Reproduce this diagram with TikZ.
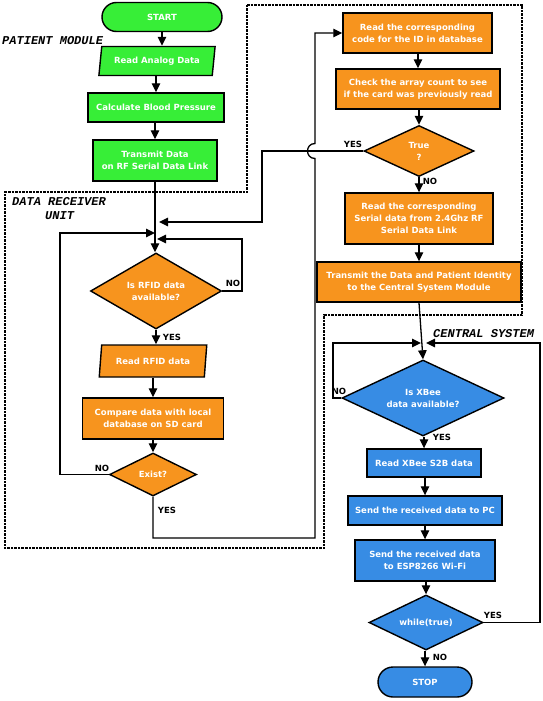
\documentclass[tikz,border=0pt]{standalone}
\usepackage{fontspec}
\setmainfont{DejaVu Sans}
\newfontfamily\modfont{Liberation Mono}
\usetikzlibrary{shapes.geometric,shapes.misc,arrows.meta}
\definecolor{cgreen}{RGB}{55,238,55}
\definecolor{corange}{RGB}{247,148,30}
\definecolor{cblue}{RGB}{55,140,228}
\begin{document}
\begin{tikzpicture}[x=1pt,y=-1pt,
  box/.style={draw=black, line width=1.4pt, text=white, font=\fontsize{8.5}{12}\selectfont\bfseries, align=center, inner sep=0pt},
  gbox/.style={box, fill=cgreen},
  obox/.style={box, fill=corange},
  bbox/.style={box, fill=cblue},
  term/.style={rounded rectangle},
  io/.style={trapezium, trapezium left angle=75, trapezium right angle=105, trapezium stretches=true},
  dec/.style={diamond, aspect=2},
  arr/.style={-{Triangle[length=9pt,width=8.5pt]}, line width=1.3pt},
  lab/.style={font=\fontsize{8.5}{10}\selectfont\bfseries, inner sep=0pt},
  mod/.style={font=\modfont\fontsize{12}{12}\selectfont\bfseries\itshape, inner sep=0pt, anchor=west},
  region/.style={line width=2.5pt, dash pattern=on 2.5pt off 1pt}
]
\useasboundingbox (0,0) rectangle (543,701);
\fill[white] (0,0) rectangle (543,701);

% region outline
\draw[region] (247,5) -- (522,5) -- (522,315) -- (324,315) -- (324,548) -- (5,548) -- (5,192) -- (247,192) -- cycle;

% module labels
\node[mod] (lpm) at (2,41) {PATIENT MODULE};
\node[mod] (ldr) at (12,202) {DATA RECEIVER};
\node[mod] (lun) at (45,216) {UNIT};
\node[mod] (lcs) at (433,334) {CENTRAL SYSTEM};

% patient module
\node[gbox, term, minimum width=120pt, minimum height=29pt] (start) at (162,17) {START};
\node[gbox, io, minimum width=117pt, minimum height=29pt] (readA) at (157,61) {Read Analog Data};
\node[gbox, rectangle, minimum width=136pt, minimum height=29pt] (calc) at (156,107.5) {Calculate Blood Pressure};
\node[gbox, rectangle, minimum width=124pt, minimum height=41pt] (trans) at (155,160.5) {Transmit Data\\on RF Serial Data Link};

% data receiver left column
\node[obox, dec, minimum width=131pt, minimum height=76pt] (rfid) at (156,291) {Is RFID data\\available?};
\node[obox, io, minimum width=108pt, minimum height=32pt] (readR) at (153,361) {Read RFID data};
\node[obox, rectangle, minimum width=141pt, minimum height=41pt] (comp) at (153,418.5) {Compare data with local\\database on SD card};
\node[obox, dec, minimum width=87pt, minimum height=43pt] (exist) at (153,474.5) {Exist?};

% data receiver right column
\node[obox, rectangle, minimum width=149pt, minimum height=40pt] (code) at (417.5,33) {Read the corresponding\\code for the ID in database};
\node[obox, rectangle, minimum width=164pt, minimum height=40pt] (check) at (418,89) {Check the array count to see\\if the card was previously read};
\node[obox, dec, minimum width=110pt, minimum height=51pt] (truew) at (419,151) {True\\?};
\node[obox, rectangle, minimum width=148pt, minimum height=51pt] (serial) at (419,218.5) {Read the corresponding\\Serial data from 2.4Ghz RF\\Serial Data Link};
\node[obox, rectangle, minimum width=204pt, minimum height=40pt] (transP) at (419,282) {Transmit the Data and Patient Identity\\to the Central System Module};

% central system
\node[bbox, dec, minimum width=162pt, minimum height=76pt] (xbee) at (423,398) {Is XBee\\data available?};
\node[bbox, rectangle, minimum width=114pt, minimum height=28pt] (readX) at (424,463) {Read XBee S2B data};
\node[bbox, rectangle, minimum width=154pt, minimum height=29pt] (pc) at (425,510.5) {Send the received data to PC};
\node[bbox, rectangle, minimum width=140pt, minimum height=41pt] (esp) at (425,560.5) {Send the received data\\to ESP8266 Wi-Fi};
\node[bbox, dec, minimum width=114pt, minimum height=55pt] (whilet) at (426,622.5) {while(true)};
\node[bbox, term, minimum width=94pt, minimum height=30pt] (stop) at (425,682) {STOP};

% connectors patient module
\draw[arr] (start.south) -- (start.south |- readA.north);
\draw[arr] (readA.south -| calc.north) -- (calc.north);
\draw[arr] (calc.south -| trans.north) -- (trans.north);
\draw[arr] (trans.south) -- (trans.south |- rfid.north);

% left column connectors
\draw[arr] (truew.west) -| (262,222) -- (159,222);
\draw[arr] (exist.west) -| (60,233) -- (155,233);
\draw[arr] (rfid.east) -| (242,239) -- (157,239);
\draw[arr] (rfid.south) -- (rfid.south |- readR.north);
\draw[arr] (readR.south -| comp.north) -- (comp.north);
\draw[arr] (comp.south) -- (exist.north);
\draw[arr] (exist.south) -- (153,538) -- (315,538) -- (315,158.5) .. controls (305,158.5) and (305,143.5) .. (315,143.5) -- (315,33) -- (code.west);

% right column connectors
\draw[arr] (code.south -| check.north) -- (check.north);
\draw[arr] (check.south -| truew.north) -- (truew.north);
\draw[arr] (truew.south) -- (serial.north);
\draw[arr] (serial.south) -- (transP.north);
\draw[arr] (transP.south) -- (xbee.north);

% central connectors
\draw[arr] (xbee.west) -| (333,343) -- (421,343);
\draw[arr] (whilet.east) -| (540,343) -- (426,343);
\draw[arr] (xbee.south -| readX.north) -- (readX.north);
\draw[arr] (readX.south -| pc.north) -- (pc.north);
\draw[arr] (pc.south) -- (esp.north);
\draw[arr] (esp.south -| whilet.north) -- (whilet.north);
\draw[arr] (whilet.south -| stop.north) -- (stop.north);

% labels
\node[lab] (nrfid) at (233,283) {NO};
\node[lab] (yrfid) at (172,337) {YES};
\node[lab] (nex) at (102,468) {NO};
\node[lab] (yex) at (167,510) {YES};
\node[lab] (ytr) at (353,144) {YES};
\node[lab] (ntr) at (430,181) {NO};
\node[lab] (nxb) at (339,391) {NO};
\node[lab] (yxb) at (442,437) {YES};
\node[lab] (ywh) at (493,615) {YES};
\node[lab] (nwh) at (440,657) {NO};
\end{tikzpicture}
\end{document}
